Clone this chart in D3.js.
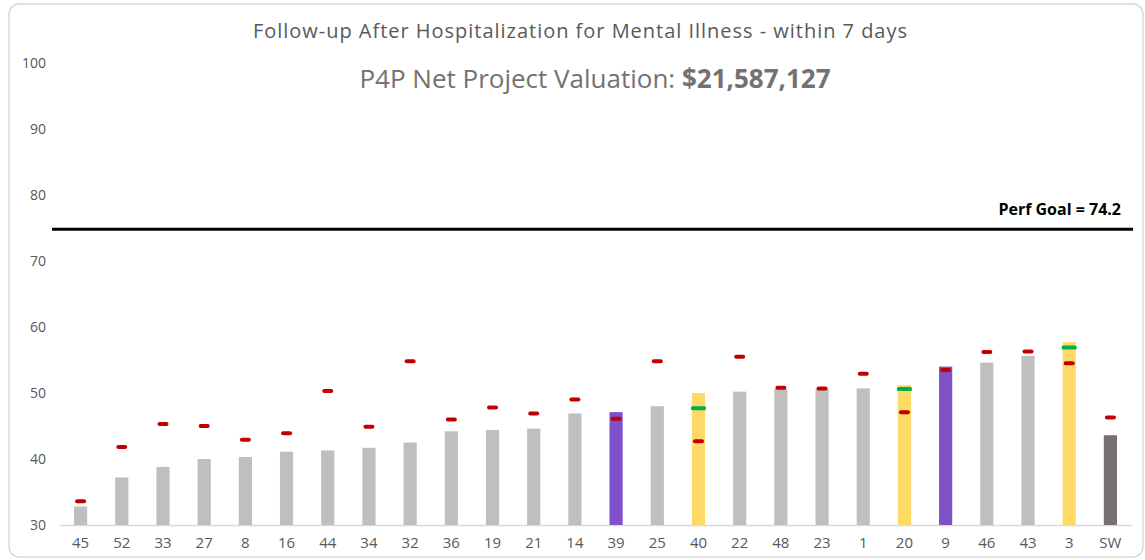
<!DOCTYPE html>
<html>
<head>
<meta charset="utf-8">
<script src="https://cdn.jsdelivr.net/npm/d3@7"></script>
<style>
  body { margin: 0; background: #fff; }
  svg text { font-family: "Open Sans", "Noto Sans", sans-serif; }
</style>
</head>
<body>
<svg id="chart" width="1145" height="560"></svg>
<script>
// chart data
const regions = ['45', '52', '33', '27', '8', '16', '44', '34', '32', '36', '19', '21', '14',
  '39', '25', '40', '22', '48', '23', '1', '20', '9', '46', '43', '3', 'SW'];
const rates = [32.8, 37.2, 38.8, 40.0, 40.3, 41.1, 41.3, 41.7, 42.5, 44.2, 44.4, 44.6, 46.9,
  47.1, 48.0, 50.0, 50.2, 50.6, 50.6, 50.7, 51.2, 54.0, 54.6, 55.6, 57.7, 43.6];
// bar group: g = regular, p = purple, y = yellow, s = statewide
const groups = ['g', 'g', 'g', 'g', 'g', 'g', 'g', 'g', 'g', 'g', 'g', 'g', 'g',
  'p', 'g', 'y', 'g', 'g', 'g', 'g', 'y', 'p', 'g', 'g', 'y', 's'];
const redMarks = [33.6, 41.8, 45.3, 45.0, 42.9, 43.9, 50.3, 44.9, 54.8, 46.0, 47.8, 46.9, 49.0,
  46.1, 54.8, 42.7, 55.5, 50.8, 50.7, 52.9, 47.1, 53.5, 56.2, 56.3, 54.5, 46.3];
const greenMarks = [null, null, null, null, null, null, null, null, null, null, null, null, null,
  null, null, 47.7, null, null, null, null, 50.6, null, null, null, 56.9, null];
const yTicks = [30, 40, 50, 60, 70, 80, 90, 100];
const goalLine = 74.8;
const goalLabel = 'Perf Goal = 74.2';
const title = 'Follow-up After Hospitalization for Mental Illness - within 7 days';
const subtitle = 'P4P Net Project Valuation: ';
const valuation = '$21,587,127';

const palette = {
  g: '#bfbfbf',
  p: '#8050c8',
  y: '#ffd966',
  s: '#767171',
  red: '#c00000',
  green: '#00b050',
  text: '#595959',
  axis: '#d9d9d9',
};

const svg = d3.select('#chart');

// outer frame
svg.append('rect')
  .attr('x', 9).attr('y', 4)
  .attr('width', 1134).attr('height', 553)
  .attr('rx', 10)
  .attr('fill', '#fff')
  .attr('stroke', '#d9d9d9')
  .attr('stroke-width', 1.5);

const x = d3.scaleBand()
  .domain(regions)
  .range([60, 1131])
  .paddingInner(0.68)
  .paddingOuter(0.34);

const y = d3.scaleLinear()
  .domain([30, 100])
  .range([525, 63]);

// titles
svg.append('text')
  .attr('x', 580).attr('y', 38)
  .attr('text-anchor', 'middle')
  .attr('font-size', 20)
  .attr('textLength', 654)
  .attr('lengthAdjust', 'spacing')
  .attr('fill', palette.text)
  .text(title);

const sub = svg.append('text')
  .attr('x', 595).attr('y', 88)
  .attr('text-anchor', 'middle')
  .attr('font-size', 26)
  .attr('fill', '#767171');
sub.append('tspan').text(subtitle);
sub.append('tspan').attr('font-weight', 'bold').text(valuation);

// y axis labels (no line, no ticks)
const yAxis = svg.append('g')
  .attr('transform', 'translate(46,0)')
  .call(d3.axisLeft(y).tickValues(yTicks).tickSize(0).tickPadding(0));
yAxis.select('.domain').remove();
yAxis.selectAll('text')
  .attr('font-size', 14)
  .attr('fill', palette.text);

// x axis
const xAxis = svg.append('g')
  .attr('transform', `translate(0,${y(30)})`)
  .call(d3.axisBottom(x).tickSize(0).tickPadding(12));
xAxis.select('.domain')
  .attr('stroke', palette.axis)
  .attr('stroke-width', 1.5);
xAxis.selectAll('text')
  .attr('font-size', 15)
  .attr('fill', palette.text);

// bars
svg.append('g').selectAll('rect')
  .data(regions)
  .join('rect')
  .attr('x', d => x(d))
  .attr('width', x.bandwidth())
  .attr('y', (d, i) => y(rates[i]))
  .attr('height', (d, i) => y(30) - y(rates[i]))
  .attr('fill', (d, i) => palette[groups[i]]);

// goal line
svg.append('line')
  .attr('x1', 52).attr('x2', 1133)
  .attr('y1', y(goalLine)).attr('y2', y(goalLine))
  .attr('stroke', '#000')
  .attr('stroke-width', 3);
svg.append('text')
  .attr('x', 1121).attr('y', y(goalLine) - 14)
  .attr('text-anchor', 'end')
  .attr('font-size', 16)
  .attr('font-weight', 'bold')
  .attr('fill', '#000')
  .text(goalLabel);

// markers
const cx = d => x(d) + x.bandwidth() / 2;
svg.append('g').selectAll('rect')
  .data(regions.filter((d, i) => greenMarks[i] !== null))
  .join('rect')
  .attr('x', d => cx(d) - 7.5)
  .attr('y', d => y(greenMarks[regions.indexOf(d)]) - 2)
  .attr('width', 15).attr('height', 4)
  .attr('rx', 1.5)
  .attr('fill', palette.green);
svg.append('g').selectAll('rect')
  .data(regions)
  .join('rect')
  .attr('x', d => cx(d) - 5.5)
  .attr('y', (d, i) => y(redMarks[i]) - 2)
  .attr('width', 11).attr('height', 4)
  .attr('rx', 2)
  .attr('fill', palette.red);
</script>
</body>
</html>
